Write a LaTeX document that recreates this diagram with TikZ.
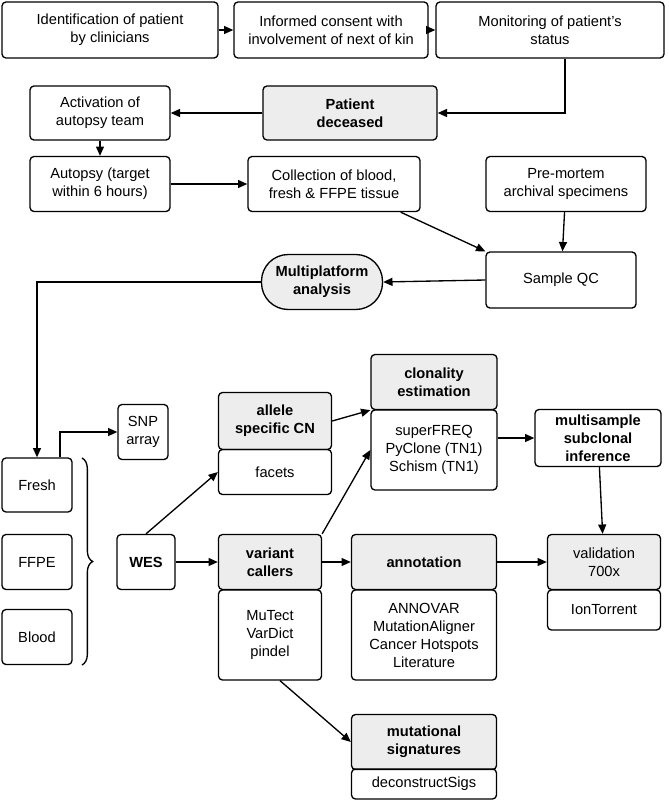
\documentclass[tikz,border=0pt]{standalone}
\usepackage{fontspec}
\setmainfont{Liberation Sans}
\usetikzlibrary{arrows.meta,decorations.pathreplacing}
\begin{document}
\begin{tikzpicture}[x=0.75pt,y=-0.75pt,
  bx/.style 2 args={draw,line width=1pt,rounded corners=3pt,minimum width=#1*0.75pt,minimum height=#2*0.75pt,inner sep=1pt,align=center,font=\fontsize{11}{13.5}\selectfont},
  hd/.style={fill=black!7,font=\fontsize{11}{13.5}\selectfont\bfseries},
  ar/.style={line width=1pt,-{Triangle[length=7pt,width=6pt]}},
  ln/.style={line width=1pt}]
\useasboundingbox (0,0) rectangle (668,800);
\node[bx={216}{56}] (A) at (110,30) {Identification of patient\\by clinicians};
\node[bx={194}{56}] (B) at (331,30) {Informed consent with\\involvement of next of kin};
\node[bx={228}{56}] (C) at (550,30) {Monitoring of patient's\\status};
\node[bx={174}{54},hd] (PD) at (350,113) {Patient\\deceased};
\node[bx={140}{54}] (Act) at (100,113) {Activation of\\autopsy team};
\node[bx={140}{55}] (Aut) at (100,184) {Autopsy (target\\within 6 hours)};
\node[bx={172}{55}] (Col) at (334,184) {Collection of blood,\\fresh \& FFPE tissue};
\node[bx={160}{55}] (Pre) at (566,184) {Pre-mortem\\archival specimens};
\node[bx={150}{56}] (QC) at (561,280) {Sample QC};
\node[bx={121}{55},hd,rounded corners=20pt] (MP) at (322,282) {Multiplatform\\analysis};
\node[bx={70}{54}] (Fr) at (37,485) {Fresh};
\node[bx={70}{55}] (FF) at (37,562) {FFPE};
\node[bx={70}{55}] (Bl) at (37,637) {Blood};
\node[bx={50}{55}] (SNP) at (143,432) {SNP\\array};
\node[bx={58}{55},font=\fontsize{11}{13.5}\selectfont\bfseries] (WES) at (146,562) {WES};
\node[bx={113}{57},hd] (alH) at (275,421) {allele\\specific CN};
\node[bx={113}{45}] (alB) at (275,472) {facets};
\node[bx={126}{55},hd] (clH) at (434,382) {clonality\\estimation};
\node[bx={126}{80}] (clB) at (434,450) {superFREQ\\PyClone (TN1)\\Schism (TN1)};
\node[bx={126}{57},font=\fontsize{11}{13.5}\selectfont\bfseries] (mu) at (598,438) {multisample\\subclonal\\inference};
\node[bx={103}{55},hd] (vaH) at (270,562) {variant\\callers};
\node[bx={103}{90}] (vaB) at (270,635) {MuTect\\VarDict\\pindel};
\node[bx={145}{55},hd] (anH) at (424,562) {annotation};
\node[bx={145}{90}] (anB) at (424,635) {ANNOVAR\\MutationAligner\\Cancer Hotspots\\Literature};
\node[bx={113}{55},hd,font=\fontsize{11}{13.5}\selectfont] (vlH) at (604,562) {validation\\700x};
\node[bx={113}{40}] (vlB) at (604,610) {IonTorrent};
\node[bx={145}{55},hd] (msH) at (424,742) {mutational\\signatures};
\node[bx={145}{30}] (msB) at (424,784) {deconstructSigs};
\draw[ar] (A) -- (B);
\draw[ar] (B) -- (C);
\draw[ar] (C.south -| 565,0) |- (PD.east);
\draw[ar] (PD) -- (Act);
\draw[ar] (Act) -- (Aut);
\draw[ar] (Aut) -- (Col);
\draw[ar] (Col.south east) ++(-20,0) coordinate (c1) -- (QC.north west);
\draw[ar] (Pre) -- (QC);
\draw[ar] (QC.west) -- (MP.east);
\draw[ar] (MP.west) -| (Fr.north);
\draw[ar] (Fr.north -| 60,0) |- (SNP.west);
\draw[ln,decorate,decoration={brace,amplitude=8pt}] (82,458) -- (82,665);
\draw[ar] (WES.north) -- (alB.west);
\draw[ar] (WES) -- (vaH);
\draw[ar] (vaH) -- (anH);
\draw[ar] (anH) -- (vlH);
\draw[ar] (alH.east) -- (clH.south west);
\draw[ar] (vaH.north east) -- (clB.west);
\draw[ar] (clB.east |- mu.west) -- (mu.west);
\draw[ar] (mu) -- (vlH);
\draw[ar] (vaB.south) ++(10,0) -- (msH.west);
\end{tikzpicture}
\end{document}
